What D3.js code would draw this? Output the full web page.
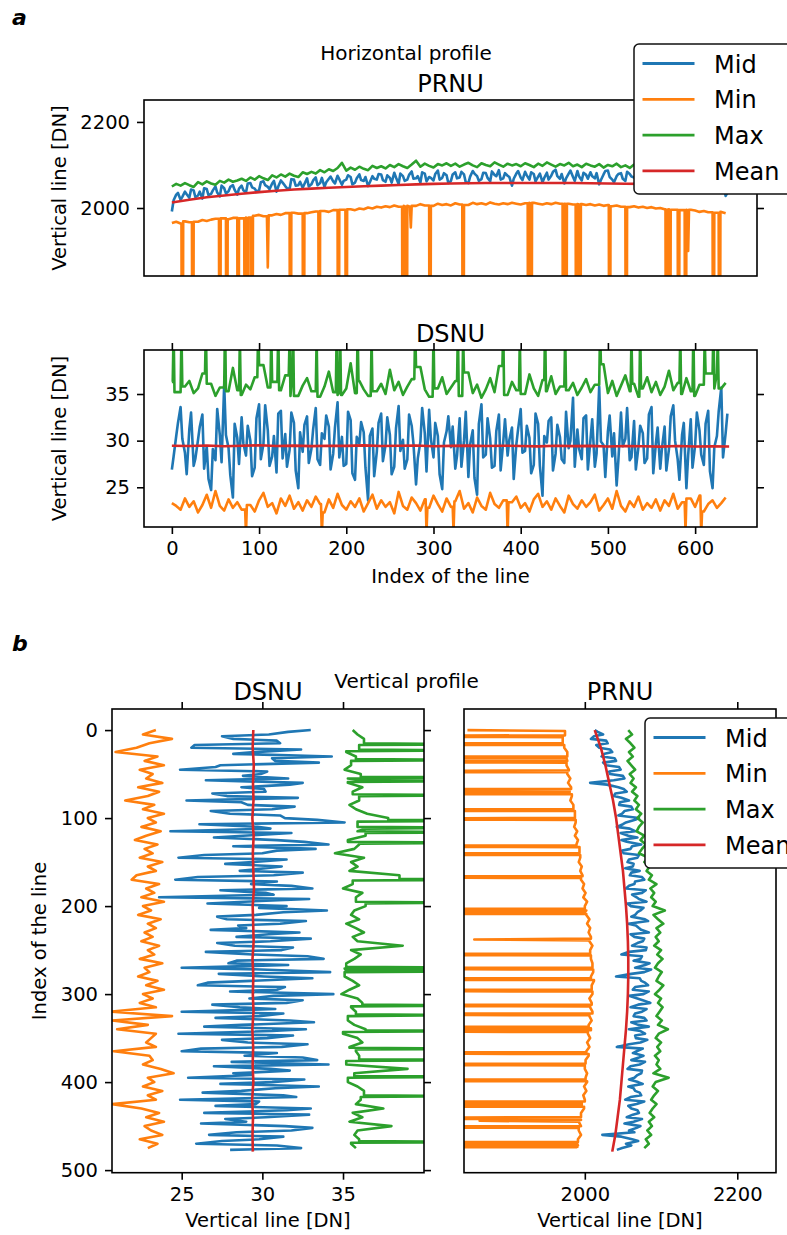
<!DOCTYPE html>
<html>
<head>
<meta charset="utf-8">
<script src="https://cdn.jsdelivr.net/npm/d3@7"></script>
<style>
body { margin: 0; background: #fff; }
text { font-family: "DejaVu Sans", sans-serif; fill: #000; }
</style>
</head>
<body>
<svg id="chart" width="787" height="1235"></svg>
<script>
// line indices (x of the horizontal profile, y of the vertical profile)
const hIdx = d3.range(0, 640, 5);
const hIdxOdd = hIdx.map(function(i) { return i + 2; });
const vIdx = d3.range(0, 480, 5);
const vIdxOdd = vIdx.map(function(i) { return i + 2; });
const hMeanIdx = d3.range(0, 640, 20).concat([639]);
const vMeanIdx = d3.range(0, 480, 20).concat([479]);

const seriesNames = ["Mid", "Min", "Max", "Mean"];
const colors = {Mid: "#1f77b4", Min: "#ff7f0e", Max: "#2ca02c", Mean: "#d62728"};

// ---- horizontal profile, PRNU
const hPrnuMid = [
  1992,2031,2019,2038,2024,2041,2029,2022,2044,2033,2050,2027,2046,2039,2053,2031,
  2052,2036,2058,2045,2041,2062,2049,2057,2038,2064,2051,2044,2066,2053,2047,2069,
  2055,2071,2058,2049,2068,2062,2075,2054,2066,2072,2059,2078,2063,2051,2074,2066,
  2078,2061,2070,2082,2056,2074,2066,2085,2069,2059,2080,2072,2064,2087,2070,2076,
  2063,2083,2071,2078,2058,2086,2074,2067,2081,2062,2077,2088,2069,2075,2052,2080,
  2071,2084,2066,2079,2073,2060,2082,2075,2089,2068,2057,2080,2072,2086,2064,2077,
  2083,2069,2055,2078,2087,2066,2074,2081,2063,2079,2071,2085,2060,2076,2068,2082,
  2065,2079,2072,2058,2084,2067,2075,2061,2080,2070,2064,2083,2069,2074,2062,2028];
const hPrnuMidOdd = [
  2018,2035,2026,2032,2043,2025,2038,2046,2030,2041,2036,2052,2034,2049,2042,2045,
  2041,2057,2048,2039,2060,2053,2044,2063,2050,2059,2046,2067,2052,2061,2056,2050,
  2064,2053,2070,2060,2073,2057,2067,2063,2076,2055,2069,2065,2072,2060,2068,2079,
  2065,2076,2059,2071,2080,2063,2077,2068,2074,2083,2062,2070,2079,2066,2081,2058,
  2078,2069,2084,2060,2073,2080,2063,2082,2070,2085,2074,2066,2081,2072,2068,2086,
  2065,2076,2083,2062,2080,2070,2066,2084,2074,2079,2069,2087,2063,2073,2082,2068,
  2074,2081,2065,2086,2072,2060,2079,2068,2084,2073,2066,2078,2082,2064,2077,2071,
  2078,2063,2082,2069,2073,2066,2080,2074,2059,2077,2081,2067,2075,2070,2060,2035];
const hPrnuMin = [
  1965,1968,1964,1969,1967,1971,1968,1972,1970,1973,1975,1972,1976,1974,1977,1979,
  1976,1980,1978,1982,1984,1981,1985,1983,1986,1984,1988,1985,1989,1987,1991,1988,
  1990,1992,1989,1993,1991,1995,1992,1996,1994,1997,1995,1999,1997,2001,1999,2003,
  2001,2004,2002,2006,2003,2007,2004,2008,2005,2009,2006,2008,2005,2010,2007,2009,
  2006,2011,2008,2010,2007,2012,2009,2011,2008,2013,2010,2008,2011,2009,2012,2010,
  2008,2011,2009,2012,2010,2008,2011,2009,2012,2010,2007,2010,2008,2011,2009,2007,
  2009,2006,2008,2005,2007,2004,2006,2003,2005,2002,2004,2001,2003,2000,2002,1999,
  2000,1997,1999,1996,1998,1995,1993,1996,1994,1991,1993,1990,1992,1989,1991,1988];
const hPrnuMinDrops = [[12,1000],[24,1000],[55,1000],[63,1000],[76,1000],[84,1000],[87,1000],
  [92,1000],[110,1862],[136,1000],[151,1000],[169,1000],[191,1000],[200,1000],[265,1000],
  [269,1000],[274,1955],[296,1000],[334,1000],[409,1000],[412,1000],[449,1000],[452,1000],
  [464,1000],[468,1000],[502,1000],[521,1000],[567,1000],[571,1000],[581,1000],[589,1000],
  [592,1900],[621,1000],[628,1000]];
const hPrnuMax = [
  2050,2056,2052,2058,2053,2049,2060,2055,2062,2057,2054,2063,2059,2066,2061,2064,
  2068,2063,2071,2066,2074,2069,2065,2076,2071,2078,2073,2080,2075,2072,2083,2079,
  2084,2080,2088,2083,2090,2086,2093,2105,2087,2094,2089,2096,2091,2088,2098,2093,
  2097,2092,2100,2095,2102,2097,2093,2101,2110,2096,2103,2098,2094,2102,2099,2104,
  2098,2103,2096,2101,2105,2099,2095,2104,2100,2097,2106,2101,2096,2103,2099,2102,
  2097,2104,2100,2095,2103,2098,2106,2101,2096,2102,2099,2105,2097,2101,2095,2103,
  2099,2096,2102,2094,2100,2097,2103,2095,2099,2093,2101,2096,2092,2099,2094,2097,
  2091,2096,2089,2094,2092,2087,2095,2090,2086,2093,2089,2092,2085,2090,2087,2089];
const hPrnuMean = [2013,2019,2025,2029,2033,2037,2040,2043,2045,2047,2049,2050.5,2052,
  2053.5,2055,2056,2057,2057.5,2058,2058,2058,2058,2058,2058,2057.5,2057,2056.5,2056,
  2055.5,2055,2054,2053.5,2053];

// ---- horizontal profile, DSNU
const hDsnuMid = [
  26.9,30.5,33.6,28.7,31.2,27.3,30.1,32.8,29.4,24.7,27.9,30.6,36.0,29.2,23.9,30.3,
  32.5,28.4,30.0,27.1,33.9,29.6,31.1,28.3,26.6,33.2,30.7,29.0,31.9,24.9,28.8,32.6,
  29.1,33.5,27.4,30.2,31.5,28.6,34.1,30.4,27.5,32.2,25.8,29.7,30.9,23.6,31.3,28.8,
  32.9,29.5,30.6,27.2,33.7,30.1,28.0,31.6,25.3,29.9,30.8,33.3,28.2,30.5,24.8,31.0,
  29.3,27.0,32.4,30.0,26.1,31.1,24.2,33.9,28.5,30.2,27.3,32.8,29.9,28.4,31.4,29.6,
  33.4,28.9,30.3,27.4,31.8,24.1,29.8,32.5,28.6,30.4,27.6,29.2,34.6,31.2,28.0,32.7,
  30.1,27.2,35.8,29.5,31.0,28.3,25.2,33.0,30.2,27.9,32.1,29.3,30.8,28.1,33.6,29.7,
  27.0,31.5,29.1,33.8,28.0,30.6,24.9,32.3,29.5,31.1,27.4,33.2,24.9,30.5,35.7,30.8];
const hDsnuMidOdd = [
  28.3,31.9,30.2,26.4,33.0,28.1,31.5,27.0,25.9,29.1,33.4,27.7,30.6,26.3,31.8,27.5,
  29.7,31.6,26.2,32.4,28.0,33.8,27.3,30.5,32.9,28.1,27.2,33.0,26.8,30.9,31.7,27.6,
  31.2,28.0,30.8,32.7,26.9,31.4,28.2,27.3,33.1,26.5,30.4,32.0,27.1,30.5,26.2,31.9,
  27.8,32.5,26.4,31.3,28.9,27.0,32.8,29.7,28.1,33.5,26.7,30.2,31.9,26.4,29.8,32.6,
  31.5,28.4,27.2,33.1,29.6,26.0,31.8,28.2,32.4,27.1,31.0,26.8,32.3,30.1,25.9,31.2,
  28.7,31.6,26.5,32.9,27.3,30.5,32.1,26.8,31.7,28.0,33.1,30.0,27.2,29.1,32.4,26.9,
  32.3,28.6,29.9,26.1,32.7,30.8,27.9,29.4,33.5,28.2,26.9,31.6,27.6,32.8,26.5,31.4,
  29.2,26.8,32.6,30.0,25.8,31.9,28.4,27.1,33.0,28.5,31.8,26.7,29.3,33.1,28.2,32.9];
const hDsnuMin = [
  23.3,23.0,22.6,23.8,22.9,23.5,22.3,23.1,24.2,22.8,24.6,23.0,22.5,23.7,22.8,23.4,
  22.6,23.9,23.1,22.4,23.6,24.4,22.9,23.3,22.2,23.8,23.0,24.1,22.7,23.4,22.5,23.6,
  22.9,24.0,23.2,22.3,23.7,22.8,24.3,23.1,22.6,23.5,22.9,23.8,22.4,23.3,24.2,22.7,
  23.6,22.9,23.4,22.2,24.5,23.0,22.6,23.9,23.3,22.5,23.7,22.8,24.1,23.2,22.4,23.8,
  22.9,23.5,24.6,22.7,23.3,22.3,23.9,23.0,22.6,24.4,23.2,22.8,23.6,22.5,23.4,24.0,
  22.8,23.3,22.4,23.7,24.3,22.9,23.5,22.6,23.8,23.0,22.3,24.1,23.2,22.7,23.6,22.9,
  23.4,24.2,22.5,23.1,23.8,22.7,24.6,23.0,22.4,23.5,22.9,24.0,22.6,23.3,22.8,23.7,
  22.5,23.6,23.0,24.3,22.7,23.4,22.2,23.8,22.9,24.1,22.4,23.2,23.6,22.8,23.3,23.9];
const hDsnuMinDips = [[85,20.0],[172,20.0],[292,20.2],[323,20.3],[385,20.0],[589,20.3],[607,20.0]];
const hDsnuMax = [
  36.3,35.2,34.9,35.8,36.4,35.1,35.6,37.2,35.0,36.1,34.8,35.7,36.6,35.3,37.8,35.4,
  34.9,36.0,35.5,36.8,35.2,38.1,35.7,34.9,36.3,35.4,37.0,35.1,36.2,34.8,35.9,36.7,
  35.3,36.5,34.7,35.8,37.4,35.2,36.0,34.9,35.6,38.3,35.1,36.4,35.5,34.8,36.9,35.3,
  36.1,35.0,37.6,35.4,36.3,34.9,35.8,36.6,35.2,37.9,35.5,34.7,36.2,35.6,36.8,35.0,
  35.7,36.4,34.8,35.9,37.3,35.1,36.0,34.6,35.5,36.7,35.2,38.0,35.8,34.9,36.3,35.4,
  36.1,35.0,37.1,35.6,34.8,36.5,35.3,36.9,35.0,35.8,37.7,35.4,36.2,34.9,35.7,36.6,
  35.2,36.0,35.5,38.2,35.1,36.4,34.8,35.9,37.0,35.3,36.1,34.7,35.6,36.8,35.2,36.3,
  34.9,35.8,37.5,35.4,36.2,35.0,36.7,35.3,34.8,36.0,35.5,37.2,35.1,36.4,35.6,36.2];
const hDsnuMaxPeaks = [[2,42],[11,41.5],[39,42],[61,43],[78,41],[99,42],[114,41.5],[122,42],
  [135,41],[139,42.5],[166,41],[189,42],[193,41.5],[213,42],[229,41],[279,42],[300,41.5],
  [328,42],[334,41],[380,42],[399,41],[428,42.5],[451,41.5],[491,42],[527,41],[537,42],
  [583,41.5],[598,42],[611,41],[621,42.5],[626,41]];
const hDsnuMean = [29.46,29.42,29.48,29.40,29.45,29.50,29.43,29.47,29.41,29.46,29.44,29.49,
  29.42,29.45,29.48,29.40,29.44,29.47,29.42,29.46,29.43,29.39,29.45,29.41,29.44,29.38,
  29.43,29.40,29.36,29.42,29.38,29.40,29.37];

// ---- vertical profile, DSNU
const vDsnuMid = [
  33.0,30.4,28.2,31.1,25.6,29.5,34.3,30.8,27.4,24.9,29.9,31.6,32.5,28.7,30.2,27.8,
  25.3,29.1,30.6,28.0,31.4,35.1,29.7,24.3,28.8,30.9,34.1,33.3,30.0,24.8,29.4,31.2,
  28.6,30.7,24.6,29.3,33.1,30.2,23.6,28.9,31.5,34.0,29.6,27.8,31.1,29.0,32.3,28.4,
  30.5,28.3,31.2,29.4,33.8,27.9,25.0,34.2,30.1,29.3,26.0,30.9,34.4,29.2,31.5,28.6,
  25.0,29.8,31.7,28.7,32.7,24.8,30.3,29.1,31.2,25.0,28.9,33.4,34.1,30.5,28.2,25.4,
  30.6,33.5,28.7,31.3,24.9,29.6,33.0,26.4,30.2,29.0,31.4,31.8,26.7,29.8,25.9,32.4];
const vDsnuMidOdd = [
  31.6,27.5,30.9,25.8,32.4,28.2,30.6,33.5,27.1,30.3,28.8,26.5,31.7,30.1,26.9,32.2,
  28.7,32.0,26.8,31.1,33.4,26.1,30.5,31.8,27.0,32.6,28.2,30.9,26.4,31.5,27.7,30.2,
  32.5,26.0,30.9,31.8,27.4,30.7,32.9,26.6,29.8,31.3,27.2,32.7,28.5,26.8,30.4,33.0,
  27.2,31.9,26.5,32.8,28.4,31.6,29.9,27.3,33.1,26.6,31.4,28.0,30.7,32.5,26.9,30.8,
  31.3,27.1,33.2,26.4,30.6,31.9,27.5,32.8,26.2,30.9,32.5,28.1,27.0,31.7,29.4,32.6,
  27.4,30.8,26.3,32.1,29.8,27.1,31.5,32.9,27.7,26.2,33.1,28.4,31.3,27.5,30.9,28.0];
const vDsnuMin = [
  23.4,22.6,24.4,23.0,22.2,20.9,23.5,22.7,23.9,22.4,23.2,22.8,23.8,22.3,23.6,22.9,
  21.5,23.3,22.6,23.9,22.9,23.4,22.5,23.7,22.8,22.1,23.5,22.7,23.2,22.4,23.8,22.9,
  23.4,22.2,21.9,23.6,22.8,23.3,22.5,23.9,22.6,23.1,22.3,23.7,22.9,23.4,22.7,23.2,
  22.5,23.6,22.9,23.3,22.4,23.8,22.7,23.0,22.3,23.5,22.8,23.9,22.6,23.2,22.4,23.4,
  20.6,24.4,20.7,22.9,21.0,23.4,23.1,22.8,23.4,20.8,23.0,23.2,22.6,23.7,24.5,22.9,
  23.3,22.6,23.8,22.9,23.4,20.7,22.5,23.6,22.8,23.9,22.7,23.1,23.8,22.4,23.5,22.9];
const vDsnuMax = [
  35.6,35.9,36.3,35.4,36.0,35.2,35.8,36.4,35.5,35.1,36.1,35.7,35.3,36.2,35.6,35.9,
  36.0,35.4,35.8,36.5,37.8,35.9,36.2,35.6,36.4,35.3,36.0,35.7,34.5,36.3,35.5,35.9,
  35.4,38.5,36.1,35.6,35.0,36.2,35.8,35.3,36.4,35.7,35.5,36.0,35.2,35.8,36.3,35.6,
  35.9,38.7,35.5,36.1,35.7,35.2,36.3,35.8,35.1,35.6,36.0,35.4,34.9,35.9,36.2,35.5,
  35.8,36.1,35.3,35.7,36.4,35.0,35.9,36.2,35.4,35.8,36.0,35.6,35.2,39.0,35.7,36.1,
  35.3,35.9,36.3,35.5,36.1,35.8,37.5,35.6,36.2,35.4,38.0,35.9,35.7,36.0,35.5,35.8];
const vDsnuMaxPeaks = [[16,44],[23,43],[34,45],[54,44],[58,42],[74,44],[103,44],[111,43],
  [116,45],[128,44],[170,44],[196,43],[270,44],[274,45],[313,44],[324,43],[342,44],
  [362,45],[375,44],[394,44],[416,43],[468,44]];
const vDsnuMean = [29.44,29.40,29.47,29.42,29.45,29.38,29.46,29.41,29.44,29.48,29.40,29.43,
  29.46,29.39,29.44,29.41,29.45,29.38,29.43,29.40,29.44,29.37,29.42,29.39,29.41];

// ---- vertical profile, PRNU
const vPrnuMid = [
  2013,2024,2008,2030,2019,2036,2022,2041,2028,2047,2033,2052,2007,2044,2055,2038,
  2058,2045,2063,2049,2071,2054,2042,2066,2057,2048,2074,2060,2051,2069,2056,2063,
  2072,2059,2078,2065,2054,2075,2068,2081,2060,2073,2066,2079,2057,2071,2084,2065,
  2076,2062,2080,2048,2073,2085,2066,2078,2041,2074,2083,2063,2077,2069,2086,2060,
  2075,2064,2081,2070,2058,2079,2067,2073,2042,2068,2077,2061,2072,2056,2074,2065,
  2070,2057,2066,2074,2053,2068,2061,2071,2055,2064,2073,2058,2023,2062,2054,2049];
const vPrnuMidOdd = [
  2017,2012,2028,2015,2033,2026,2039,2024,2045,2032,2050,2038,2029,2051,2040,2048,
  2046,2061,2052,2044,2066,2050,2059,2047,2069,2055,2062,2049,2071,2058,2064,2053,
  2061,2075,2066,2058,2080,2062,2071,2056,2077,2069,2061,2083,2067,2074,2060,2078,
  2069,2081,2058,2075,2064,2079,2087,2061,2072,2079,2066,2084,2058,2076,2070,2081,
  2066,2078,2061,2084,2073,2066,2082,2058,2076,2063,2071,2079,2060,2075,2069,2058,
  2076,2064,2072,2060,2078,2057,2069,2063,2075,2052,2068,2065,2048,2070,2061,2042];
const vPrnuMin = [
  1972,1974,1971,1975,1973,1977,1974,1978,1976,1979,1977,1981,1978,1982,1980,1983,
  1981,1985,1983,1987,1984,1988,1986,1990,1987,1991,1989,1993,1990,1994,1992,1996,
  1994,1997,1995,1999,1997,2001,1998,2003,2000,2004,2002,2006,2003,2007,2005,2008,
  2006,2010,2007,2011,2008,2010,2007,2011,2008,2012,2009,2007,2010,2006,2009,2007,
  2010,2006,2009,2005,2008,2004,2007,2003,2006,2002,2005,2001,2004,2000,2003,2001,
  2003,1999,2002,1998,2000,1996,1999,1995,1997,1993,1996,1992,1995,1991,1994,1990];
const vPrnuMinDrops = [[0,1846],[7,1000],[16,1000],[31,1000],[36,1000],[47,1000],[68,1000],
  [72,1000],[91,1000],[101,1000],[132,1000],[141,1000],[167,1000],[204,1000],[208,1000],
  [238,1855],[255,1000],[271,1000],[283,1000],[296,1000],[313,1000],[323,1000],[338,1000],
  [342,1000],[367,1000],[380,1000],[398,1000],[423,1000],[427,1000],[441,1000],[444,1862],
  [451,1000],[469,1000],[473,1000]];
const vPrnuMax = [
  2057,2062,2054,2060,2065,2058,2063,2056,2061,2066,2059,2064,2060,2067,2062,2069,
  2065,2071,2067,2074,2069,2076,2071,2068,2078,2073,2080,2075,2071,2083,2078,2085,
  2081,2088,2084,2094,2086,2091,2087,2093,2089,2105,2090,2096,2103,2094,2099,2093,
  2097,2091,2100,2095,2102,2096,2092,2101,2097,2094,2103,2098,2092,2100,2096,2102,
  2098,2094,2101,2096,2109,2097,2093,2100,2095,2099,2092,2097,2094,2099,2090,2110,
  2093,2089,2096,2091,2087,2094,2089,2085,2091,2084,2088,2082,2087,2080,2084,2078];
const vPrnuMean = [2013,2021,2027,2032,2037,2041,2044,2047,2050,2052,2054,2055.5,2056.5,
  2057,2057,2056.5,2055.5,2054,2052,2050,2048,2046,2043,2040,2036];

var svg = d3.select("#chart");
svg.append("rect").attr("width", 787).attr("height", 1235).attr("fill", "#fff");

function pairs(idx, vals) {
    return idx.map(function(i, k) { return [i, vals[k]]; });
}

function interleave(idxA, a, idxB, b) {
    return pairs(idxA, a).concat(pairs(idxB, b)).sort(function(p, q) { return p[0] - q[0]; });
}

// put single-line spikes into a sampled series, holding the neighbouring read values
function withSpikes(idx, vals, spikes) {
    var near = function(i) { return spikes.some(function(s) { return Math.abs(s[0] - i) <= 1; }); };
    var base = pairs(idx, vals).filter(function(p) { return !near(p[0]); });
    var pts = base.slice();
    spikes.forEach(function(s) {
        var prev = base.filter(function(p) { return p[0] < s[0]; }).pop();
        var next = base.find(function(p) { return p[0] > s[0]; });
        if (prev) pts.push([s[0] - 1, prev[1]]);
        pts.push([s[0], s[1]]);
        if (next) pts.push([s[0] + 1, next[1]]);
    });
    return pts.sort(function(a, b) { return a[0] - b[0]; });
}

function makePanel(name, box, xDomain, yDomain, vertical) {
    var p = {box: box, vertical: vertical};
    p.x = d3.scaleLinear().domain(xDomain).range([box.x0, box.x1]);
    p.y = d3.scaleLinear().domain(yDomain).range(vertical ? [box.y0, box.y1] : [box.y1, box.y0]);
    p.g = svg.append("g");
    p.g.append("clipPath").attr("id", "clip-" + name)
      .append("rect")
        .attr("x", box.x0).attr("y", box.y0)
        .attr("width", box.x1 - box.x0).attr("height", box.y1 - box.y0);
    p.lines = p.g.append("g").attr("clip-path", "url(#clip-" + name + ")");
    return p;
}

function drawSeries(p, pts, color) {
    var line = d3.line()
      .defined(function(d) { return d[1] != null; })
      .x(function(d) { return p.vertical ? p.x(d[1]) : p.x(d[0]); })
      .y(function(d) { return p.vertical ? p.y(d[0]) : p.y(d[1]); });
    p.lines.append("path")
      .datum(pts)
      .attr("d", line)
      .attr("fill", "none")
      .attr("stroke", color)
      .attr("stroke-width", 2.6)
      .attr("stroke-linejoin", "round");
}

function addAxis(p, side, ticks, labels) {
    var scale = (side == "left" || side == "right") ? p.y : p.x;
    var maker = {left: d3.axisLeft, right: d3.axisRight, top: d3.axisTop, bottom: d3.axisBottom}[side];
    var pos = {left: [p.box.x0, 0], right: [p.box.x1, 0], top: [0, p.box.y0], bottom: [0, p.box.y1]}[side];
    var a = p.g.append("g")
      .attr("transform", "translate(" + pos + ")")
      .call(maker(scale).tickValues(ticks).tickSize(7).tickPadding(7)
        .tickFormat(labels ? d3.format("d") : ""));
    a.attr("font-family", "DejaVu Sans").attr("font-size", 19.5);
    a.select(".domain").remove();
    a.selectAll("line").attr("stroke", "#000").attr("stroke-width", 1.6);
    a.selectAll("text").attr("fill", "#000");
}

function frame(p) {
    p.g.append("rect")
      .attr("x", p.box.x0).attr("y", p.box.y0)
      .attr("width", p.box.x1 - p.box.x0).attr("height", p.box.y1 - p.box.y0)
      .attr("fill", "none").attr("stroke", "#000").attr("stroke-width", 1.6);
}

function addText(x, y, str, size, opts) {
    opts = opts || {};
    var t = svg.append("text")
      .attr("x", x).attr("y", y)
      .attr("font-size", size)
      .attr("text-anchor", opts.anchor || "middle")
      .text(str);
    if (opts.rotate) t.attr("transform", "rotate(-90," + x + "," + y + ")");
    if (opts.serif) t.attr("font-family", "DejaVu Serif").attr("font-weight", "bold").attr("font-style", "italic");
    return t;
}

function addLegend(x0, y0) {
    var g = svg.append("g").attr("transform", "translate(" + x0 + "," + y0 + ")");
    g.append("rect")
      .attr("width", 175).attr("height", 150).attr("rx", 5)
      .attr("fill", "#fff").attr("stroke", "#111").attr("stroke-width", 1.5);
    seriesNames.forEach(function(name, k) {
        var yy = 19.5 + k * 35.8;
        g.append("line")
          .attr("x1", 8.5).attr("x2", 60.5).attr("y1", yy).attr("y2", yy)
          .attr("stroke", colors[name]).attr("stroke-width", 2.8);
        g.append("text")
          .attr("x", 80).attr("y", yy + 9)
          .attr("font-size", 24)
          .text(name);
    });
}

// ---------- a: horizontal profile
var hPrnu = makePanel("hprnu", {x0: 144, x1: 757, y0: 100, y1: 276}, [-31.95, 670.95], [1842, 2251], false);
drawSeries(hPrnu, interleave(hIdx, hPrnuMid, hIdxOdd, hPrnuMidOdd), colors.Mid);
drawSeries(hPrnu, withSpikes(hIdx, hPrnuMin, hPrnuMinDrops), colors.Min);
drawSeries(hPrnu, pairs(hIdx, hPrnuMax), colors.Max);
drawSeries(hPrnu, pairs(hMeanIdx, hPrnuMean), colors.Mean);
addAxis(hPrnu, "left", [2000, 2200], true);
addAxis(hPrnu, "right", [2000, 2200], false);
frame(hPrnu);

var hDsnu = makePanel("hdsnu", {x0: 144, x1: 757, y0: 350, y1: 527}, [-31.95, 670.95], [20.74, 39.72], false);
drawSeries(hDsnu, interleave(hIdx, hDsnuMid, hIdxOdd, hDsnuMidOdd), colors.Mid);
drawSeries(hDsnu, withSpikes(hIdx, hDsnuMin, hDsnuMinDips), colors.Min);
drawSeries(hDsnu, withSpikes(hIdx, hDsnuMax, hDsnuMaxPeaks), colors.Max);
drawSeries(hDsnu, pairs(hMeanIdx, hDsnuMean), colors.Mean);
addAxis(hDsnu, "left", [25, 30, 35], true);
addAxis(hDsnu, "right", [25, 30, 35], false);
addAxis(hDsnu, "bottom", [0, 100, 200, 300, 400, 500, 600], true);
addAxis(hDsnu, "top", [0, 100, 200, 300, 400, 500, 600], false);
frame(hDsnu);

addText(12, 25, "a", 22, {anchor: "start", serif: true});
addText(406, 60, "Horizontal profile", 20);
addText(450.5, 92, "PRNU", 24);
addText(450.5, 342, "DSNU", 24);
addText(66, 188, "Vertical line [DN]", 19.5, {rotate: true});
addText(66, 438.5, "Vertical line [DN]", 19.5, {rotate: true});
addText(450.5, 583, "Index of the line", 19.5);
addLegend(634, 44);

// ---------- b: vertical profile
var vDsnu = makePanel("vdsnu", {x0: 112, x1: 424, y0: 709, y1: 1172.7}, [20.68, 40.02], [-23.95, 502.95], true);
drawSeries(vDsnu, interleave(vIdx, vDsnuMid, vIdxOdd, vDsnuMidOdd), colors.Mid);
drawSeries(vDsnu, pairs(vIdx, vDsnuMin), colors.Min);
drawSeries(vDsnu, withSpikes(vIdx, vDsnuMax, vDsnuMaxPeaks), colors.Max);
drawSeries(vDsnu, pairs(vMeanIdx, vDsnuMean), colors.Mean);
addAxis(vDsnu, "left", [0, 100, 200, 300, 400, 500], true);
addAxis(vDsnu, "right", [0, 100, 200, 300, 400, 500], false);
addAxis(vDsnu, "bottom", [25, 30, 35], true);
addAxis(vDsnu, "top", [25, 30, 35], false);
frame(vDsnu);

var vPrnu = makePanel("vprnu", {x0: 464, x1: 776, y0: 709, y1: 1172.7}, [1841.5, 2250.8], [-23.95, 502.95], true);
drawSeries(vPrnu, interleave(vIdx, vPrnuMid, vIdxOdd, vPrnuMidOdd), colors.Mid);
drawSeries(vPrnu, withSpikes(vIdx, vPrnuMin, vPrnuMinDrops), colors.Min);
drawSeries(vPrnu, pairs(vIdx, vPrnuMax), colors.Max);
drawSeries(vPrnu, pairs(vMeanIdx, vPrnuMean), colors.Mean);
addAxis(vPrnu, "bottom", [2000, 2200], true);
addAxis(vPrnu, "top", [2000, 2200], false);
frame(vPrnu);

addText(12, 651, "b", 22, {anchor: "start", serif: true});
addText(406.5, 688, "Vertical profile", 20);
addText(268, 700, "DSNU", 24);
addText(620, 700, "PRNU", 24);
addText(46, 941, "Index of the line", 19.5, {rotate: true});
addText(268, 1227, "Vertical line [DN]", 19.5);
addText(620, 1227, "Vertical line [DN]", 19.5);
addLegend(645, 718);
</script>
</body>
</html>
